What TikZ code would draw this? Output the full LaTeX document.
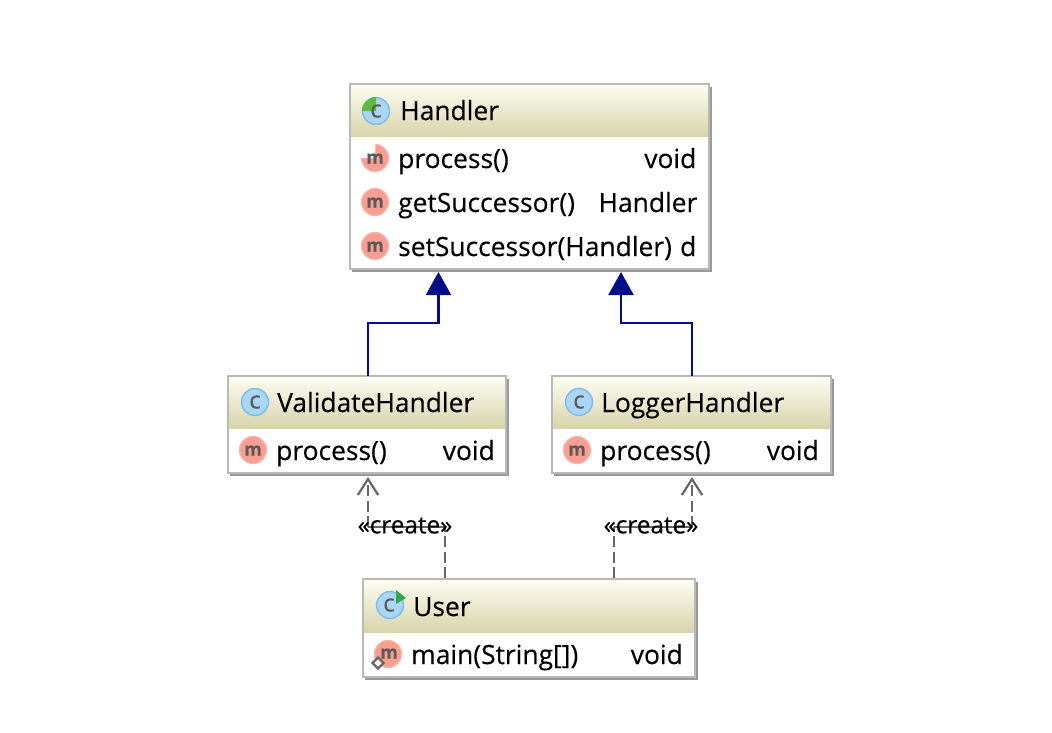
\documentclass[tikz,border=0pt]{standalone}
\usepackage{fontspec}
\setmainfont[RawFeature={embolden=0.3}]{Open Sans}
\usetikzlibrary{arrows.meta,shadings}
\definecolor{boxline}{HTML}{B9B9B9}
\definecolor{boxshadow}{HTML}{9A9A9A}
\definecolor{headtop}{HTML}{FDFDF2}
\definecolor{headbot}{HTML}{D8D4AC}
\definecolor{inherit}{HTML}{000F87}
\definecolor{depend}{HTML}{666666}
\definecolor{cfill}{HTML}{A9D6F6}
\definecolor{cline}{HTML}{7DBBE8}
\definecolor{mfill}{HTML}{FB9D90}
\definecolor{mline}{HTML}{F4B5AC}
\definecolor{icontxt}{HTML}{5A5A5A}
\definecolor{abstractg}{HTML}{5DBB3C}
\definecolor{rung}{HTML}{2FA84A}
\tikzset{
  x=1pt,y=-1pt,
  classbox/.style={rectangle,inner sep=0pt,outer sep=0pt,anchor=north west},
  label text/.style={anchor=base west,inner sep=0pt,font=\fontsize{26.4}{30}\selectfont,text=black},
  type text/.style={anchor=base east,inner sep=0pt,font=\fontsize{26.4}{30}\selectfont,text=black},
  create text/.style={inner sep=0pt,font=\fontsize{24.3}{28}\selectfont,text=black},
  inh/.style={draw=inherit,line width=2.2pt,-{Triangle[length=23pt,width=25pt,fill=inherit]}},
  dep/.style={draw=depend,line width=2.2pt,dash pattern=on 11pt off 4.5pt,-{Straight Barb[length=16pt,width=22pt,line width=2.2pt,angle'=65]}},
  depline/.style={draw=depend,line width=2.2pt,dash pattern=on 11pt off 4.5pt},
  icon c/.style={circle,minimum size=27pt,inner sep=0pt,fill=cfill,draw=cline,line width=1.4pt},
  icon m/.style={circle,minimum size=27pt,inner sep=0pt,fill=mfill,draw=mline,line width=1.4pt},
  icon letter m/.style={anchor=base,inner sep=0pt,text=icontxt,font=\fontsize{18}{18}\selectfont\bfseries},
  icon letter c/.style={anchor=base,inner sep=0pt,text=icontxt,font=\fontsize{24}{24}\selectfont},
}
% #1 name, #2 left, #3 top, #4 right, #5 header bottom, #6 bottom
\newcommand{\classframe}[6]{%
  \fill[boxshadow] (#2+2,#3+3) rectangle (#4+3,#6+3);
  \fill[white] (#2,#3) rectangle (#4,#6);
  \shade[top color=headtop,bottom color=headbot] (#2,#3) rectangle (#4,#5);
  \node[classbox,draw=boxline,line width=2pt,minimum width=#4pt-#2pt,minimum height=#6pt-#3pt] (#1) at (#2,#3) {};
}
\newcommand{\cicon}[3]{\node[icon c] (#1) at (#2,#3) {};}
\newcommand{\cletter}[3]{\node[icon letter c] (#1) at (#2,#3+6.5) {c};}
\newcommand{\micon}[3]{\node[icon m] (#1) at (#2,#3) {};}
\newcommand{\mletter}[3]{\node[icon letter m] (#1) at (#2,#3+5.5) {m};}
\begin{document}
\begin{tikzpicture}
\useasboundingbox (0,0) rectangle (1052,732);
\fill[white] (0,0) rectangle (1052,732);

\classframe{handler}{350}{84}{709}{136}{269}
\classframe{validate}{228}{376}{506}{428}{473}
\classframe{logger}{552}{376}{831}{428}{473}
\classframe{user}{363}{579}{695}{632}{677}

% Handler
\cicon{hc}{376}{111}
\fill[abstractg] (376,111) -- (362,111) arc[start angle=180,end angle=270,radius=14] -- cycle;
\cletter{hcl}{376}{111}
\node[label text] (hname) at (400,120) {Handler};
\micon{hm1}{375}{158}
\fill[white] (375,158) -- (361,158) arc[start angle=180,end angle=270,radius=14.5] -- cycle;
\mletter{hm1l}{375}{158}
\node[label text] (hp) at (398,168) {process()};
\node[type text] (hpt) at (696.5,168) {void};
\micon{hm2}{375}{202}
\mletter{hm2l}{375}{202}
\node[label text] (hg) at (398,212) {getSuccessor()};
\node[type text] (hgt) at (697.5,212) {Handler};
\micon{hm3}{375}{246}
\mletter{hm3l}{375}{246}
\node[label text] (hs) at (398,256) {setSuccessor(Handler)};
\node[type text] (hst) at (696.5,256) {d};

% ValidateHandler
\cicon{vc}{255}{402}
\cletter{vcl}{255}{402}
\node[label text] (vname) at (277,412) {ValidateHandler};
\micon{vm}{253}{450}
\mletter{vml}{253}{450}
\node[label text] (vp) at (276,460) {process()};
\node[type text] (vpt) at (495,460) {void};

% LoggerHandler
\cicon{lc}{579}{402}
\cletter{lcl}{579}{402}
\node[label text] (lname) at (601,412) {LoggerHandler};
\micon{lm}{577}{450}
\mletter{lml}{577}{450}
\node[label text] (lp) at (600,460) {process()};
\node[type text] (lpt) at (819,460) {void};

% User
\cicon{uc}{390}{605}
\cletter{ucl}{389}{605}
\fill[rung] (396,590) -- (406,598) -- (396,604) -- cycle;
\node[label text] (uname) at (413,616) {User};
\micon{um}{388}{654}
\mletter{uml}{389}{653}
\draw[depend,line width=2.4pt,fill=white] (378,657.5) -- (383.5,663) -- (378,668.5) -- (372.5,663) -- cycle;
\node[label text] (up) at (411,664) {main(String[])};
\node[type text] (upt) at (683,664) {void};

% inheritance
\coordinate (hin1) at (438.5,272);
\coordinate (hin2) at (621,272);
\coordinate (bend1) at (368,323);
\coordinate (bend2) at (692,323);
\draw[inh] (validate.north -| bend1) -- (bend1) -| (hin1);
\draw[inh] (logger.north -| bend2) -- (bend2) -| (hin2);

% dependencies
\coordinate (vtip) at (368,477);
\coordinate (ltip) at (692,477);
\coordinate (ustart1) at (445,578);
\coordinate (ustart2) at (614,578);
\coordinate (turn1) at (445,527);
\coordinate (turn2) at (614,527);
\draw[depline] (ustart1) -- (turn1);
\draw[depline] (ustart2) -- (turn2);
\draw[draw=depend,line width=2.2pt] (turn1) -- (turn1 -| vtip);
\draw[draw=depend,line width=2.2pt] (turn2) -- (turn2 -| ltip);
\draw[dep] (turn1 -| vtip) -- (vtip);
\draw[dep] (turn2 -| ltip) -- (ltip);
\node[create text] (c1) at (405,525.5) {«create»};
\node[create text] (c2) at (651,525.5) {«create»};
\end{tikzpicture}
\end{document}
